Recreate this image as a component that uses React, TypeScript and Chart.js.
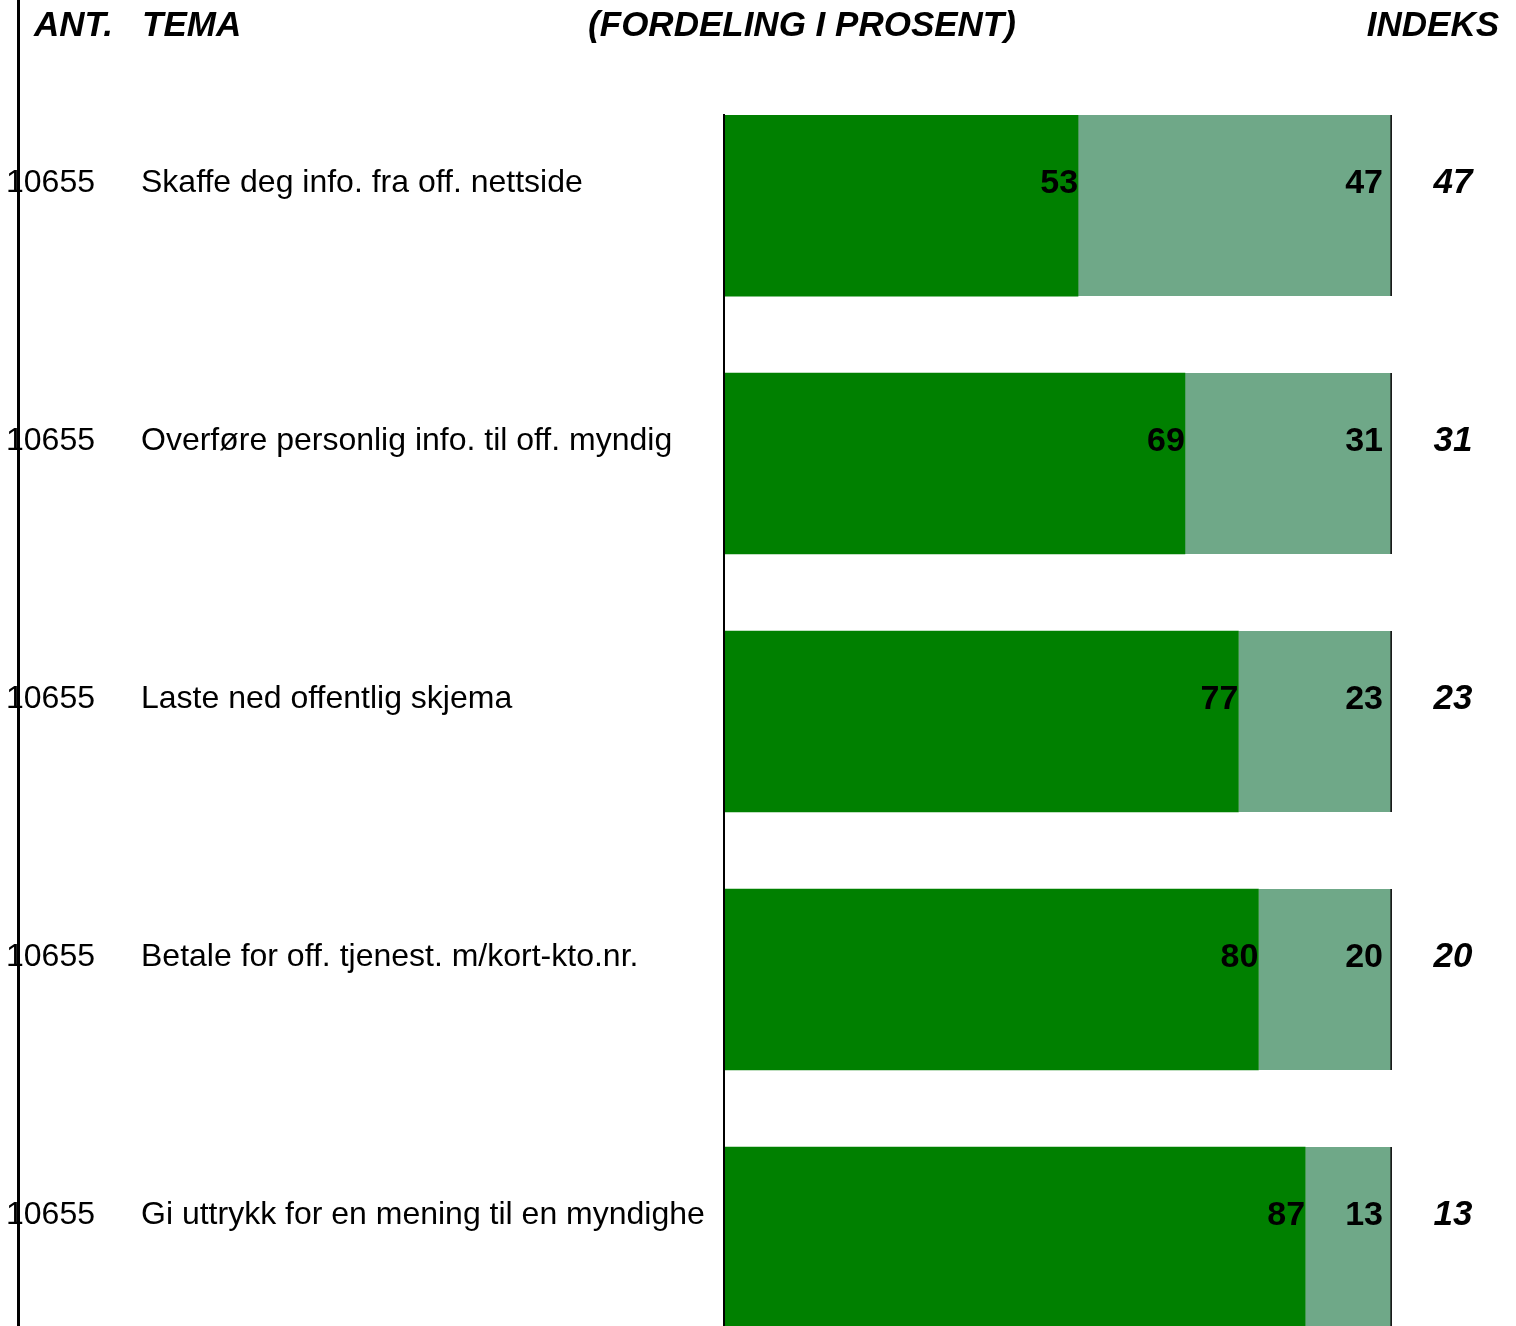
import React, { useEffect, useRef } from "react";
import { Chart, registerables } from "chart.js";

Chart.register(...registerables);

const categories = [
  "Skaffe deg info. fra off. nettside",
  "Overføre personlig info. til off. myndig",
  "Laste ned offentlig skjema",
  "Betale for off. tjenest. m/kort-kto.nr.",
  "Gi uttrykk for en mening til en myndighe",
];
const counts = [10655, 10655, 10655, 10655, 10655];
const darkValues = [53, 69, 77, 80, 87];
const lightValues = [47, 31, 23, 20, 13];
const indexValues = [47, 31, 23, 20, 13];
const headers = { ant: "ANT.", tema: "TEMA", mid: "(FORDELING I PROSENT)", indeks: "INDEKS" };

const FONT = '"Liberation Sans", Arial, sans-serif';

const W = 1516;
const H = 1326;

const overlayPlugin = {
  id: "overlay",
  afterDraw(chart: any) {
    const ctx = chart.ctx as CanvasRenderingContext2D;
    const ys = chart.scales.y;
    const xs = chart.scales.x;
    const area = chart.chartArea;
    ctx.save();
    ctx.fillStyle = "#000";
    ctx.textBaseline = "middle";

    // headers
    ctx.font = `italic bold 35px ${FONT}`;
    ctx.textAlign = "left";
    ctx.fillText(headers.ant, 34, 26);
    ctx.fillText(headers.tema, 142, 26);
    ctx.textAlign = "center";
    ctx.fillText(headers.mid, 802, 26);
    ctx.textAlign = "right";
    ctx.fillText(headers.indeks, 1499, 26);

    categories.forEach((cat, i) => {
      const y = ys.getPixelForValue(i) - 22;
      ctx.font = `32px ${FONT}`;
      ctx.textAlign = "left";
      ctx.fillText(String(counts[i]), 6, y);
      ctx.fillText(cat, 141, y);
      ctx.font = `italic bold 35px ${FONT}`;
      ctx.textAlign = "center";
      ctx.fillText(String(indexValues[i]), 1453, y);
    });

    // value labels
    ctx.font = `bold 34px ${FONT}`;
    ctx.textAlign = "right";
    [0, 1].forEach((d) => {
      const meta = chart.getDatasetMeta(d);
      const vals = d === 0 ? darkValues : lightValues;
      meta.data.forEach((el: any, i: number) => {
        const y = ys.getPixelForValue(i) - 22;
        ctx.fillText(String(vals[i]), el.x - (d === 0 ? 0 : 9), y);
      });
    });

    // axis line at 0
    const x0 = xs.getPixelForValue(0);
    ctx.strokeStyle = "#000";
    ctx.lineWidth = 2;
    ctx.beginPath();
    ctx.moveTo(x0, area.top - 1);
    ctx.lineTo(x0, H);
    ctx.stroke();

    // left frame line
    ctx.lineWidth = 3;
    ctx.beginPath();
    ctx.moveTo(18.5, 0);
    ctx.lineTo(18.5, H);
    ctx.stroke();
    ctx.restore();
  },
};

export default function App() {
  const ref = useRef<HTMLCanvasElement | null>(null);
  useEffect(() => {
    document.body.style.margin = "0";
    document.body.style.overflow = "hidden";
    const canvas = ref.current!;
    const chart = new Chart(canvas, {
      type: "bar",
      data: {
        datasets: [
          {
            label: "a",
            data: darkValues.map((v, i) => ({ x: v, y: i })),
            backgroundColor: "#008000",
            borderWidth: 0,
            barThickness: 181,
            stack: "s",
          },
          {
            label: "b",
            data: lightValues.map((v, i) => ({ x: v, y: i })),
            backgroundColor: "#6FA888",
            borderColor: "#1a1a1a",
            borderWidth: { left: 0, top: 0, bottom: 0, right: 2 },
            borderSkipped: false,
            barThickness: 181,
            stack: "s",
          },
        ],
      } as any,
      options: {
        indexAxis: "y",
        responsive: false,
        animation: false,
        layout: { padding: { left: 724, right: W - 1392, top: 115, bottom: 0 } },
        plugins: { legend: { display: false }, tooltip: { enabled: false } },
        scales: {
          x: { type: "linear", min: 0, max: 100, stacked: true, display: false, offset: false },
          y: {
            type: "linear",
            min: -0.351,
            max: 4.343,
            reverse: true,
            stacked: true,
            display: false,
            offset: false,
            grid: { offset: false },
          },
        },
      } as any,
      plugins: [overlayPlugin],
    });
    return () => chart.destroy();
  }, []);
  return <canvas ref={ref} width={W} height={H} style={{ display: "block" }} />;
}
